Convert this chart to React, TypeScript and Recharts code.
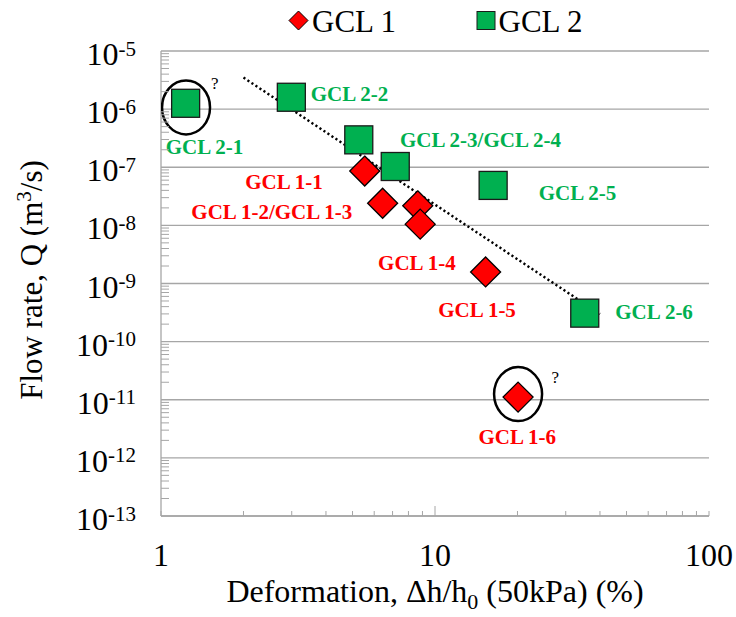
import React from 'react';
import { ScatterChart, Scatter, XAxis, YAxis, ReferenceLine, Legend } from 'recharts';

const SERIF = '"Liberation Serif", "Times New Roman", Times, serif';
const AXIS_GRAY = '#a6a6a6';

// ---- series ----
const seriesNames = ['GCL 1', 'GCL 2'];
const seriesColors = ['#ff0000', '#00b050'];

const gcl1Deformation = [5.54, 6.44, 8.65, 8.83, 15.3, 20.1];
const gcl1Flow = [8.6e-8, 2.4e-8, 2.17e-8, 1.05e-8, 1.58e-9, 1.11e-11];

const gcl2Deformation = [1.23, 2.99, 5.27, 7.16, 16.3, 35.2];
const gcl2Flow = [1.26e-6, 1.6e-6, 2.96e-7, 1.03e-7, 4.87e-8, 3.09e-10];

const trendDeformation = [2.0, 40.0];
const trendFlow = [3.49e-6, 2.99e-10];

// ---- point labels (anchored in data units) ----
const gcl1LabelText = ['GCL 1-1', 'GCL 1-2/GCL 1-3', 'GCL 1-4', 'GCL 1-5', 'GCL 1-6'];
const gcl1LabelX = [2.03, 1.29, 6.2, 10.28, 14.4];
const gcl1LabelQ = [5.61e-8, 1.71e-8, 2.22e-9, 3.51e-10, 2.31e-12];

const gcl2LabelText = ['GCL 2-1', 'GCL 2-2', 'GCL 2-3/GCL 2-4', 'GCL 2-5', 'GCL 2-6'];
const gcl2LabelX = [1.04, 3.52, 7.45, 23.9, 45.5];
const gcl2LabelQ = [2.24e-7, 1.85e-6, 2.92e-7, 3.55e-8, 3.27e-10];

// circled (questionable) points and their "?" marks
const circleX = [1.234, 20.1];
const circleQ = [1.07e-6, 1.25e-11];
const questionX = [1.57, 27.5];
const questionQ = [2.79e-6, 2.5e-11];

// ---- axes ----
const xMajorTicks = [1, 10, 100];
const minorMultipliers = [2, 3, 4, 5, 6, 7, 8, 9];
const yMajorTicks = [1e-13, 1e-12, 1e-11, 1e-10, 1e-9, 1e-8, 1e-7, 1e-6, 1e-5];

const xTicks: number[] = [];
xMajorTicks.forEach((d, i) => {
  xTicks.push(d);
  if (i < xMajorTicks.length - 1) minorMultipliers.forEach((m) => xTicks.push(m * d));
});
const yTicks: number[] = [];
yMajorTicks.forEach((d, i) => {
  yTicks.push(d);
  if (i < yMajorTicks.length - 1) minorMultipliers.forEach((m) => yTicks.push(m * d));
});

const zip = (xs: number[], ys: number[]) => xs.map((x, i) => ({ x, y: ys[i] }));
const zipText = (xs: number[], ys: number[], t: string[]) => xs.map((x, i) => ({ x, y: ys[i], text: t[i] }));

const gcl1Data = zip(gcl1Deformation, gcl1Flow);
const gcl2Data = zip(gcl2Deformation, gcl2Flow);
const trendData = zip(trendDeformation, trendFlow);
const gcl1Labels = zipText(gcl1LabelX, gcl1LabelQ, gcl1LabelText);
const gcl2Labels = zipText(gcl2LabelX, gcl2LabelQ, gcl2LabelText);
const circleData = zip(circleX, circleQ);
const questionData = zip(questionX, questionQ);

const isMajor = (v: number) => {
  const e = Math.round(Math.log10(v));
  return Math.abs(v / Math.pow(10, e) - 1) < 1e-6;
};

const DiamondShape = (props: any) => {
  const { cx, cy } = props;
  if (cx == null || cy == null) return <g />;
  const r = 15;
  return (
    <polygon
      points={`${cx},${cy - r} ${cx + r},${cy} ${cx},${cy + r} ${cx - r},${cy}`}
      fill={seriesColors[0]}
      stroke="#000"
      strokeWidth={1.3}
    />
  );
};

const SquareShape = (props: any) => {
  const { cx, cy } = props;
  if (cx == null || cy == null) return <g />;
  const s = 28;
  return <rect x={cx - s / 2} y={cy - s / 2} width={s} height={s} fill={seriesColors[1]} stroke="#1a1a1a" strokeWidth={1.3} />;
};

const makeTextShape = (color: string) => (props: any) => {
  const { cx, cy, payload } = props;
  if (cx == null || cy == null) return <g />;
  return (
    <text x={cx} y={cy + 7} fill={color} fontSize={21} fontWeight="bold" fontFamily={SERIF}>
      {payload.text}
    </text>
  );
};

const EllipseShape = (props: any) => {
  const { cx, cy } = props;
  if (cx == null || cy == null) return <g />;
  return <ellipse cx={cx} cy={cy} rx={24} ry={27} fill="none" stroke="#000" strokeWidth={2.5} />;
};

const QuestionShape = (props: any) => {
  const { cx, cy } = props;
  if (cx == null || cy == null) return <g />;
  return (
    <text x={cx} y={cy + 6} textAnchor="middle" fontSize={17} fontFamily={SERIF} fill="#000">
      ?
    </text>
  );
};

const NoShape = () => <g />;

const XTick = (props: any) => {
  const { x, y, payload } = props;
  const v = payload.value;
  const major = isMajor(v);
  return (
    <g>
      <line x1={x} x2={x} y1={y} y2={y - (v === 10 ? 10 : 5)} stroke={AXIS_GRAY} strokeWidth={1} />
      {major && (
        <text x={x} y={y + 50} textAnchor="middle" fontSize={32} fontFamily={SERIF} fill="#000">
          {String(v)}
        </text>
      )}
    </g>
  );
};

const YTick = (props: any) => {
  const { x, y, payload } = props;
  const v = payload.value;
  const major = isMajor(v);
  const e = Math.round(Math.log10(v));
  return (
    <g>
      {!major && <line x1={x} x2={x + 8} y1={y} y2={y} stroke={AXIS_GRAY} strokeWidth={1} />}
      {major && (
        <text x={x - 25} y={y + 14} textAnchor="end" fontSize={32} fontFamily={SERIF} fill="#000">
          <tspan>10</tspan>
          <tspan dy={-9.5} fontSize={21}>{`${e}`}</tspan>
        </text>
      )}
    </g>
  );
};

const XTitle = (props: any) => {
  const vb = props.viewBox || { x: 0, y: 0, width: 0, height: 0 };
  const cx = vb.x + vb.width / 2;
  return (
    <text x={cx} y={vb.y + 86} textAnchor="middle" fontSize={32} fontFamily={SERIF} fill="#000">
      <tspan>Deformation, Δh/h</tspan>
      <tspan fontSize={22} dy={7}>0</tspan>
      <tspan dy={-7}> (50kPa) (%)</tspan>
    </text>
  );
};

const YTitle = (props: any) => {
  const vb = props.viewBox || { x: 0, y: 0, width: 0, height: 0 };
  const cy = vb.y + vb.height / 2 - 3.5;
  const bx = vb.x + 42;
  return (
    <text x={bx} y={cy} transform={`rotate(-90 ${bx} ${cy})`} textAnchor="middle" fontSize={31} fontFamily={SERIF} fill="#000">
      <tspan>Flow rate, Q (m</tspan>
      <tspan fontSize={21} dy={-11}>3</tspan>
      <tspan dy={11}>/s)</tspan>
    </text>
  );
};

const LegendContent = () => (
  <div style={{ width: 736, height: 40, position: 'relative' }}>
    <svg width={736} height={40} style={{ position: 'absolute', left: 0, top: 0 }}>
      <polygon points="298.5,11 308,20.5 298.5,30 289,20.5" fill={seriesColors[0]} stroke="#000" strokeWidth={1} />
      <text x={312} y={32.3} fontSize={31} fontFamily={SERIF} fill="#000">{seriesNames[0]}</text>
      <rect x={477} y={11.5} width={18} height={18} fill={seriesColors[1]} stroke="#1a1a1a" strokeWidth={1} />
      <text x={498.5} y={32.3} fontSize={31} fontFamily={SERIF} fill="#000">{seriesNames[1]}</text>
    </svg>
  </div>
);

export default function App() {
  return (
    <div style={{ position: 'absolute', left: 0, top: 0 }}>
      <ScatterChart width={736} height={617} margin={{ top: 11, right: 27, bottom: 0, left: 0 }}>
        <Legend
          verticalAlign="top"
          align="left"
          wrapperStyle={{ top: 0, left: 0, width: 736, height: 40, margin: 0, padding: 0 }}
          content={() => <LegendContent />}
        />
        <XAxis
          type="number"
          dataKey="x"
          scale="log"
          domain={[1, 100]}
          allowDataOverflow
          ticks={xTicks}
          interval={0}
          tickSize={0}
          tickMargin={0}
          tick={<XTick />}
          height={101}
          axisLine={{ stroke: AXIS_GRAY, strokeWidth: 1.3 }}
          tickLine={false}
          label={(p: any) => <XTitle viewBox={p.viewBox} />}
        />
        <YAxis
          type="number"
          dataKey="y"
          scale="log"
          domain={[1e-13, 1e-5]}
          allowDataOverflow
          ticks={yTicks}
          interval={0}
          tickSize={0}
          tickMargin={0}
          tick={<YTick />}
          width={161}
          axisLine={{ stroke: AXIS_GRAY, strokeWidth: 1.3 }}
          tickLine={false}
          label={(p: any) => <YTitle viewBox={p.viewBox} />}
        />
        {yMajorTicks.map((v) => (
          <ReferenceLine key={v} y={v} stroke={AXIS_GRAY} strokeWidth={1.3} />
        ))}
        <Scatter
          data={trendData}
          line={{ stroke: '#000', strokeWidth: 2.4, strokeDasharray: '2.2 2.6' }}
          shape={NoShape}
          legendType="none"
          isAnimationActive={false}
        />
        <Scatter name={seriesNames[0]} data={gcl1Data} shape={DiamondShape} isAnimationActive={false} />
        <Scatter name={seriesNames[1]} data={gcl2Data} shape={SquareShape} isAnimationActive={false} />
        <Scatter data={circleData} shape={EllipseShape} legendType="none" isAnimationActive={false} />
        <Scatter data={questionData} shape={QuestionShape} legendType="none" isAnimationActive={false} />
        <Scatter data={gcl1Labels} shape={makeTextShape(seriesColors[0])} legendType="none" isAnimationActive={false} />
        <Scatter data={gcl2Labels} shape={makeTextShape(seriesColors[1])} legendType="none" isAnimationActive={false} />
      </ScatterChart>
    </div>
  );
}
